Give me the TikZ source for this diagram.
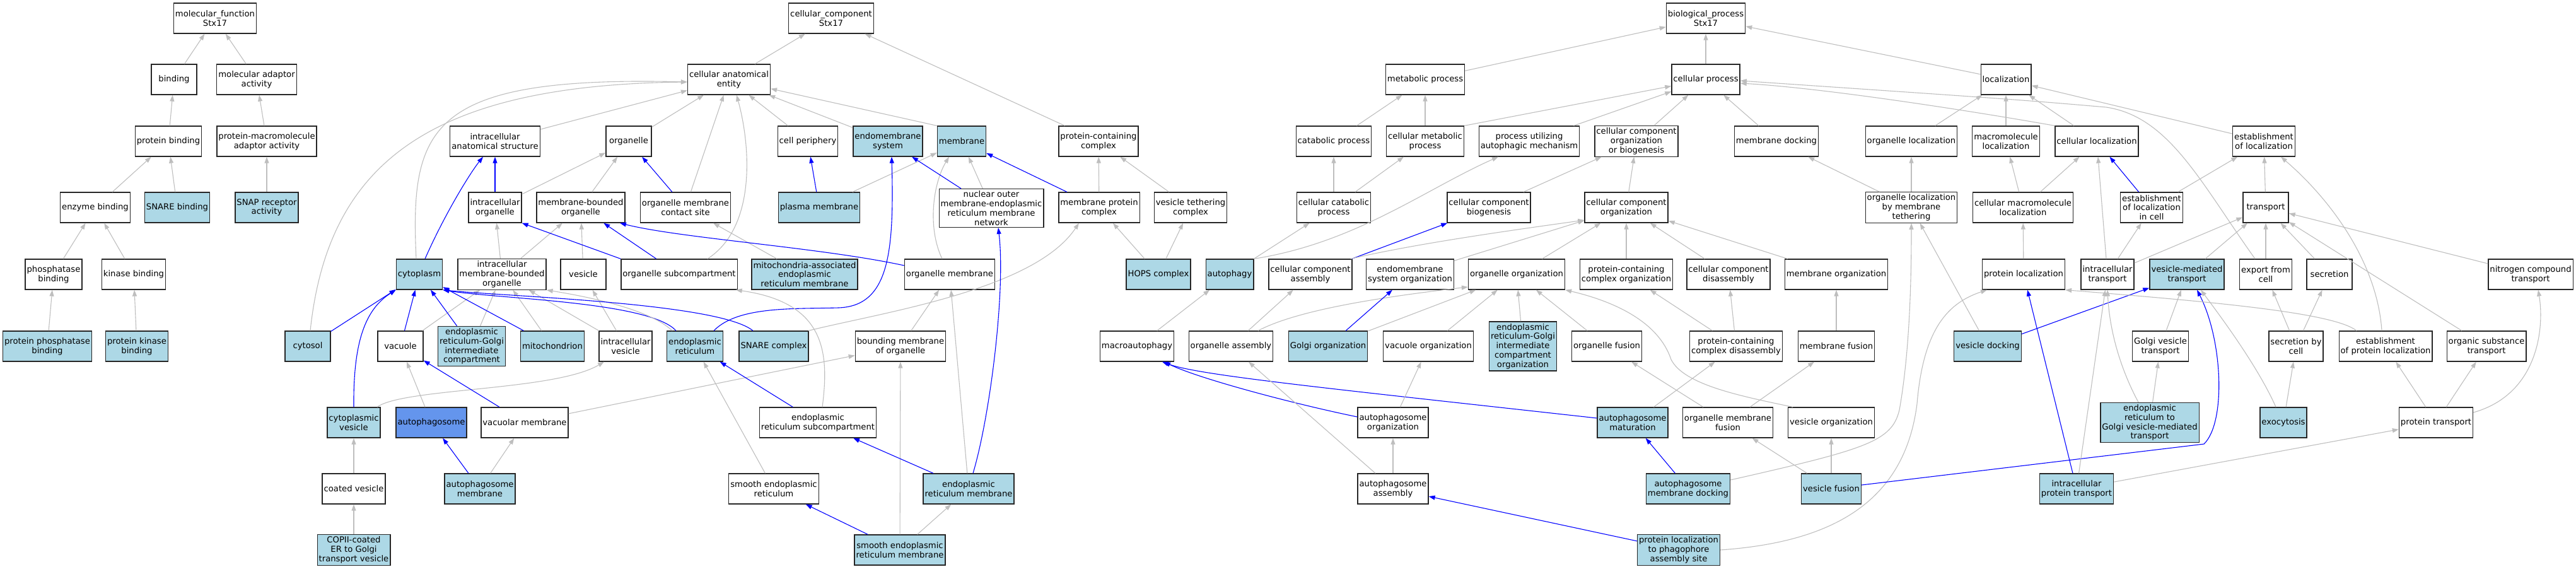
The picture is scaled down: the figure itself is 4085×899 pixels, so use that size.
\documentclass[tikz,border=0pt]{standalone}
\usepackage{fontspec}
\setmainfont{DejaVu Sans}
\usepackage{tikz}
\usetikzlibrary{arrows.meta}
\definecolor{gohit}{HTML}{ADD8E6}
\definecolor{goapg}{HTML}{6495ED}
\definecolor{goedge}{HTML}{BEBEBE}
\definecolor{gopart}{HTML}{0000FF}
\begin{document}
\begin{tikzpicture}[x=1pt,y=-1pt,
  term/.style={draw=black!85, line width=1.3pt, fill=white, align=center,
    minimum width=72pt, minimum height=48pt, inner xsep=2.5pt, inner ysep=3pt,
    font=\fontsize{13.2}{14.8}\selectfont},
  hit/.style={term, fill=gohit},
  isa/.style={draw=goedge, line width=1.1pt, -{Triangle[length=10pt,width=7pt]}},
  partof/.style={draw=gopart, line width=1.1pt, -{Triangle[length=10pt,width=7pt]}}]
  \useasboundingbox (0,0) rectangle (4085,899);
  % molecular function
  \draw (341,29) node[term](mf){molecular\_function\\Stx17};
  \draw (276,126) node[term](bind){binding};
  \draw (407,126) node[term](mad){molecular adaptor\\activity};
  \draw (267,224) node[term](pbind){protein binding};
  \draw (423,224) node[term](pmad){protein-macromolecule\\adaptor activity};
  \draw (151,329) node[term](enz){enzyme binding};
  \draw (281,329) node[hit](snareb){SNARE binding};
  \draw (423,329) node[hit](snap){SNAP receptor\\activity};
  \draw (85,435) node[term](phos){phosphatase\\binding};
  \draw (212,435) node[term](kin){kinase binding};
  \draw (75,549) node[hit](pphos){protein phosphatase\\binding};
  \draw (217,549) node[hit](pkin){protein kinase\\binding};
  % cellular component
  \draw (1318,29) node[term](cc){cellular\_component\\Stx17};
  \draw (1156,126) node[term](cae){cellular anatomical\\entity};
  \draw (785,224) node[term](ias){intracellular\\anatomical structure};
  \draw (997,224) node[term](org){organelle};
  \draw (1281,224) node[term](cper){cell periphery};
  \draw (1408,224) node[hit](ems){endomembrane\\system};
  \draw (1525,224) node[hit](mem){membrane};
  \draw (1742,224) node[term](pcc){protein-containing\\complex};
  \draw (785,329) node[term](iorg){intracellular\\organelle};
  \draw (921,329) node[term](mbo){membrane-bounded\\organelle};
  \draw (1087,329) node[term](omcs){organelle membrane\\contact site};
  \draw (1299,329) node[hit](pm){plasma membrane};
  \draw (1572,330) node[term](nomer){nuclear outer\\membrane-endoplasmic\\reticulum membrane\\network};
  \draw (1743,329) node[term](mpc){membrane protein\\complex};
  \draw (1888,329) node[term](vtc){vesicle tethering\\complex};
  \draw (665,435) node[hit](cyto){cytoplasm};
  \draw (796,435) node[term](imbo){intracellular\\membrane-bounded\\organelle};
  \draw (925,435) node[term](ves){vesicle};
  \draw (1077,435) node[term](osub){organelle subcompartment};
  \draw (1276,435) node[hit](mam){mitochondria-associated\\endoplasmic\\reticulum membrane};
  \draw (1506,435) node[term](omem){organelle membrane};
  \draw (1837,435) node[hit](hops){HOPS complex};
  \draw (488,549) node[hit](cytosol){cytosol};
  \draw (635,549) node[term](vac){vacuole};
  \draw (748,549) node[hit](ergic){endoplasmic\\reticulum-Golgi\\intermediate\\compartment};
  \draw (876,549) node[hit](mito){mitochondrion};
  \draw (992,549) node[term](ives){intracellular\\vesicle};
  \draw (1102,549) node[hit](er){endoplasmic\\reticulum};
  \draw (1227,549) node[hit](snarec){SNARE complex};
  \draw (1428,549) node[term](bmo){bounding membrane\\of organelle};
  \draw (561,670) node[hit](cves){cytoplasmic\\vesicle};
  \draw (684,670) node[term, fill=goapg](apg){autophagosome};
  \draw (832,670) node[term](vacm){vacuolar membrane};
  \draw (1297,670) node[term](ersub){endoplasmic\\reticulum subcompartment};
  \draw (561,775) node[term](coat){coated vesicle};
  \draw (761,775) node[hit](apgm){autophagosome\\membrane};
  \draw (1227,775) node[term](ser){smooth endoplasmic\\reticulum};
  \draw (1536,775) node[hit](erm){endoplasmic\\reticulum membrane};
  \draw (561,872) node[hit](copii){COPII-coated\\ER to Golgi\\transport vesicle};
  \draw (1427,872) node[hit](serm){smooth endoplasmic\\reticulum membrane};
  % biological process
  \draw (2705,29) node[term](bp){biological\_process\\Stx17};
  \draw (2260,126) node[term](metab){metabolic process};
  \draw (2705,126) node[term](cproc){cellular process};
  \draw (3181,126) node[term](loc){localization};
  \draw (2115,224) node[term](catab){catabolic process};
  \draw (2260,224) node[term](cmetab){cellular metabolic\\process};
  \draw (2425,224) node[term](puam){process utilizing\\autophagic mechanism};
  \draw (2595,224) node[term](ccob){cellular component\\organization\\or biogenesis};
  \draw (2817,224) node[term](mdock){membrane docking};
  \draw (3031,224) node[term](orgloc){organelle localization};
  \draw (3181,224) node[term](mmloc){macromolecule\\localization};
  \draw (3325,224) node[term](cloc){cellular localization};
  \draw (3590,224) node[term](estloc){establishment\\of localization};
  \draw (2115,329) node[term](ccatab){cellular catabolic\\process};
  \draw (2361,329) node[term](ccb){cellular component\\biogenesis};
  \draw (2579,329) node[term](cco){cellular component\\organization};
  \draw (3031,329) node[term](oltether){organelle localization\\by membrane\\tethering};
  \draw (3208,329) node[term](cmmloc){cellular macromolecule\\localization};
  \draw (3412,329) node[term](estcell){establishment\\of localization\\in cell};
  \draw (3593,329) node[term](transp){transport};
  \draw (1950,435) node[hit](autophagy){autophagy};
  \draw (2078,435) node[term](cca){cellular component\\assembly};
  \draw (2236,435) node[term](emso){endomembrane\\system organization};
  \draw (2405,435) node[term](oorg){organelle organization};
  \draw (2579,435) node[term](pcco){protein-containing\\complex organization};
  \draw (2741,435) node[term](ccd){cellular component\\disassembly};
  \draw (2912,435) node[term](memorg){membrane organization};
  \draw (3209,435) node[term](ploc){protein localization};
  \draw (3342,435) node[term](itransp){intracellular\\transport};
  \draw (3468,435) node[hit](vmt){vesicle-mediated\\transport};
  \draw (3593,435) node[term](export){export from\\cell};
  \draw (3694,435) node[term](secr){secretion};
  \draw (4013,435) node[term](nct){nitrogen compound\\transport};
  \draw (1803,549) node[term](macro){macroautophagy};
  \draw (1952,549) node[term](oasm){organelle assembly};
  \draw (2106,549) node[hit](golgio){Golgi organization};
  \draw (2265,549) node[term](vaco){vacuole organization};
  \draw (2415,549) node[hit](ergico){endoplasmic\\reticulum-Golgi\\intermediate\\compartment\\organization};
  \draw (2548,549) node[term](ofus){organelle fusion};
  \draw (2753,549) node[term](pccd){protein-containing\\complex disassembly};
  \draw (2912,549) node[term](mfus){membrane fusion};
  \draw (3152,549) node[hit](vdock){vesicle docking};
  \draw (3426,549) node[term](gvt){Golgi vesicle\\transport};
  \draw (3641,549) node[term](secc){secretion by\\cell};
  \draw (3783,549) node[term](estprot){establishment\\of protein localization};
  \draw (3943,549) node[term](ost){organic substance\\transport};
  \draw (2209,670) node[term](apgo){autophagosome\\organization};
  \draw (2589,670) node[hit](apgmat){autophagosome\\maturation};
  \draw (2740,670) node[term](omfus){organelle membrane\\fusion};
  \draw (2904,670) node[term](veso){vesicle organization};
  \draw (3409,670) node[hit](ergvt){endoplasmic\\reticulum to\\Golgi vesicle-mediated\\transport};
  \draw (3621,670) node[hit](exo){exocytosis};
  \draw (3863,670) node[term](ptransp){protein transport};
  \draw (2209,775) node[term](apga){autophagosome\\assembly};
  \draw (2677,775) node[hit](apgmd){autophagosome\\membrane docking};
  \draw (2904,775) node[hit](vfus){vesicle fusion};
  \draw (3293,775) node[hit](iptransp){intracellular\\protein transport};
  \draw (2662,872) node[hit](plpas){protein localization\\to phagophore\\assembly site};
  % molecular function edges
  \draw[isa] (bind) -- (mf);
  \draw[isa] (mad) -- (mf);
  \draw[isa] (pbind) -- (bind);
  \draw[isa] (pmad) -- (mad);
  \draw[isa] (enz) -- (pbind);
  \draw[isa] (snareb) -- (pbind);
  \draw[isa] (snap) -- (pmad);
  \draw[isa] (phos) -- (enz);
  \draw[isa] (kin) -- (enz);
  \draw[isa] (pphos) -- (phos);
  \draw[isa] (pkin) -- (kin);
  % cellular component edges
  \draw[isa] (cae) -- (cc);
  \draw[isa] (pcc) -- (cc);
  \draw[isa] (ias) -- (cae);
  \draw[isa] (org) -- (cae);
  \draw[isa] (omcs) -- (cae);
  \draw[isa] (cper) -- (cae);
  \draw[isa] (ems) -- (cae);
  \draw[isa] (mem.north west) -- (cae);
  \draw[isa] ([xshift=45pt]osub.north) .. controls (1200,360) and (1190,230) .. ([xshift=12pt]cae.south);
  \draw[isa] ([xshift=-5pt]cyto.north) .. controls (650,200) and (680,120) .. ([yshift=-4pt]cae.west);
  \draw[isa] ([xshift=4pt]cytosol.north) .. controls (520,260) and (680,135) .. ([yshift=-4pt]cae.west);
  \draw[partof] (iorg) -- (ias);
  \draw[isa] (iorg) -- (org);
  \draw[partof] ([xshift=9pt]cyto.north) .. controls (705,340) and (745,275) .. ([xshift=-19pt]ias.south);
  \draw[isa] (mbo) -- (org);
  \draw[partof] (omcs) -- (org);
  \draw[partof] (pm) -- (cper);
  \draw[isa] (pm) -- (mem);
  \draw[isa] (imbo) -- (iorg);
  \draw[isa] (imbo) -- (mbo);
  \draw[isa] (ves) -- (mbo);
  \draw[partof] (osub.north west) -- (iorg.south east);
  \draw[partof] (osub) -- (mbo);
  \draw[isa] (mam) -- (omcs);
  \draw[partof] ([yshift=14pt]omem.west) .. controls (1300,392) and (1080,378) .. ([xshift=62pt]mbo.south);
  \draw[isa] ([xshift=-12pt]omem.north) .. controls (1470,360) and (1480,290) .. ([xshift=-20pt]mem.south);
  \draw[partof] (nomer) -- (ems);
  \draw[isa] (nomer) -- (mem);
  \draw[partof] (mpc) -- (mem);
  \draw[isa] (mpc) -- (pcc);
  \draw[isa] (vtc) -- (pcc);
  \draw[isa] (hops) -- (mpc);
  \draw[isa] (hops) -- (vtc);
  \draw[partof] (cytosol) -- (cyto);
  \draw[partof] (vac) -- (cyto);
  \draw[isa] (vac) -- (imbo);
  \draw[partof] (ergic) -- (cyto);
  \draw[isa] (ergic) -- (imbo);
  \draw[partof] (mito) -- (cyto);
  \draw[isa] (mito) -- (imbo);
  \draw[isa] (ives) -- (imbo);
  \draw[isa] (ives) -- (ves);
  \draw[partof] ([xshift=-30pt]er.north) .. controls (1030,478) and (790,474) .. (cyto.south east);
  \draw[isa] ([xshift=-36pt]er.north) .. controls (1030,490) and (930,470) .. (imbo.south east);
  \draw[partof] ([xshift=30pt]er.north) .. controls (1170,485) and (1260,490) .. (1330,488) .. controls (1410,485) and (1418,400) .. ([xshift=6pt]ems.south);
  \draw[partof] ([xshift=-33pt]snarec.north) .. controls (1140,480) and (800,470) .. (cyto.south east);
  \draw[isa] ([xshift=55pt]snarec.north) .. controls (1400,495) and (1640,460) .. ([xshift=-32pt]mpc.south);
  \draw[partof] (cves.north) .. controls (560,540) and (580,490) .. (cyto.south west);
  \draw[isa] ([xshift=37pt]cves.north) .. controls (640,615) and (880,620) .. ([xshift=-34pt]ives.south);
  \draw[isa] (coat) -- (cves);
  \draw[isa] (copii) -- (coat);
  \draw[isa] (apg) -- (vac);
  \draw[partof] (vacm) -- (vac);
  \draw[isa] (vacm) -- (bmo);
  \draw[partof] (apgm) -- (apg);
  \draw[isa] (apgm) -- (vacm);
  \draw[partof] (ersub) -- (er);
  \draw[isa] ([xshift=7pt]ersub.north) .. controls (1315,560) and (1310,480) .. ([xshift=-3pt]osub.south east);
  \draw[isa] (ser) -- (er);
  \draw[partof] (serm) -- (ser);
  \draw[isa] (serm) -- (bmo);
  \draw[isa] (serm) -- (erm);
  \draw[partof] (erm) -- (ersub);
  \draw[isa] (erm) -- (omem);
  \draw[isa] (bmo) -- (omem);
  \draw[partof] ([xshift=7pt]erm.north) .. controls (1570,660) and (1595,460) .. ([xshift=11pt]nomer.south);
  % biological process edges
  \draw[isa] (metab) -- (bp);
  \draw[isa] (cproc) -- (bp);
  \draw[isa] (loc) -- (bp);
  \draw[isa] (catab) -- (metab);
  \draw[isa] (cmetab) -- (metab);
  \draw[isa] (cmetab.north east) -- (cproc);
  \draw[isa] (puam) -- (cproc);
  \draw[isa] (ccob) -- (cproc);
  \draw[isa] (mdock) -- (cproc);
  \draw[isa] (cloc.north west) .. controls (3150,180) and (2900,140) .. ([yshift=-6pt]cproc.east);
  \draw[isa] ([xshift=-17pt]export.north) .. controls (3490,290) and (3440,185) .. (3340,170) .. controls (3200,158) .. ([yshift=-2pt]cproc.east);
  \draw[isa] (ccatab) -- (catab);
  \draw[isa] (ccatab) -- (cmetab);
  \draw[isa] (autophagy) -- (ccatab);
  \draw[isa] (autophagy.north east) .. controls (2150,385) and (2260,300) .. ([xshift=-49pt]puam.south);
  \draw[isa] (ccb) -- (ccob);
  \draw[isa] (cco) -- (ccob);
  \draw[partof] (cca) -- (ccb);
  \draw[isa] ([xshift=64pt]cca.north) .. controls (2250,385) and (2420,362) .. ([yshift=-20pt]cco.west);
  \draw[isa] (emso) -- (cco);
  \draw[isa] (oorg) -- (cco);
  \draw[isa] (pcco) -- (cco);
  \draw[isa] (ccd) -- (cco);
  \draw[isa] (memorg) -- (cco);
  \draw[isa] (macro) -- (autophagy);
  \draw[isa] (oasm) -- (cca);
  \draw[isa] ([xshift=43pt]oasm.north) .. controls (2060,490) and (2200,470) .. ([yshift=-20pt]oorg.west);
  \draw[partof] (golgio) -- (emso);
  \draw[isa] (golgio) -- (oorg);
  \draw[isa] (vaco) -- (oorg);
  \draw[isa] (ergico) -- (oorg);
  \draw[isa] (ofus) -- (oorg);
  \draw[isa] ([xshift=-61pt]veso.north) .. controls (2760,628) and (2670,610) .. (2650,570) .. controls (2630,510) and (2560,478) .. (oorg.south east);
  \draw[isa] (pccd) -- (pcco);
  \draw[isa] (pccd) -- (ccd);
  \draw[isa] (mfus) -- (memorg);
  \draw[isa] (omfus) -- (ofus);
  \draw[isa] (omfus) -- (mfus);
  \draw[isa] (apgmat) -- (pccd);
  \draw[partof] ([yshift=7pt]apgmat.west) .. controls (2100,615) and (1900,595) .. ([xshift=40pt]macro.south);
  \draw[partof] ([yshift=9pt]apgo.west) .. controls (2050,640) and (1900,600) .. ([xshift=43pt]macro.south);
  \draw[isa] (apgo) -- (vaco);
  \draw[isa] (apga) -- (apgo);
  \draw[isa] (apga) -- (oasm);
  \draw[partof] (plpas) -- (apga);
  \draw[partof] (apgmd) -- (apgmat);
  \draw[isa] ([yshift=14pt]apgmd.east) .. controls (2960,712) and (3000,700) .. (3012,650) .. controls (3028,560) and (3031,450) .. (oltether.south);
  \draw[isa] (plpas.east) .. controls (2900,860) and (3020,800) .. (3040,640) .. controls (3050,520) and (3090,480) .. ([xshift=-58pt]ploc.south);
  \draw[isa] (vfus) -- (omfus);
  \draw[isa] (vfus) -- (veso);
  \draw[partof] ([yshift=6pt]vfus.east) -- (3495,704) .. controls (3530,670) and (3525,540) .. ([xshift=16pt]vmt.south);
  \draw[isa] (orgloc) -- (loc);
  \draw[isa] (mmloc) -- (loc);
  \draw[isa] (cloc) -- (loc);
  \draw[isa] (estloc) -- (loc);
  \draw[isa] (oltether) -- (mdock);
  \draw[isa] (oltether) -- (orgloc);
  \draw[isa] (cmmloc) -- (mmloc);
  \draw[isa] (cmmloc) -- (cloc);
  \draw[isa] (ploc) -- (cmmloc);
  \draw[isa] (vdock) -- (oltether);
  \draw[partof] (vdock) -- (vmt);
  \draw[partof] (iptransp) -- (ploc);
  \draw[isa] (iptransp) -- (itransp);
  \draw[isa] (iptransp) -- (ptransp);
  \draw[partof] (estcell) -- (cloc);
  \draw[isa] (estcell) -- (estloc);
  \draw[isa] (transp) -- (estloc);
  \draw[isa] (itransp) -- (estcell);
  \draw[isa] (itransp) -- (transp);
  \draw[isa] (itransp) -- (cloc);
  \draw[isa] (vmt) -- (transp);
  \draw[isa] (export) -- (transp);
  \draw[isa] (secr) -- (transp);
  \draw[isa] (nct) -- (transp);
  \draw[isa] (ost) -- (transp);
  \draw[isa] (gvt) -- (vmt);
  \draw[isa] (ergvt) -- (gvt);
  \draw[isa] ([xshift=-18pt]ergvt.north) .. controls (3360,580) and (3345,520) .. (itransp.south);
  \draw[isa] ([xshift=-12pt]exo.north) .. controls (3580,580) and (3520,500) .. ([xshift=22pt]vmt.south);
  \draw[isa] (exo) -- (secc);
  \draw[isa] (secc) -- (export);
  \draw[isa] (secc) -- (secr);
  \draw[isa] ([xshift=-6pt]estprot.north) .. controls (3770,420) and (3700,320) .. ([xshift=27pt]estloc.south);
  \draw[isa] ([xshift=-46pt]estprot.north) .. controls (3700,495) and (3500,478) .. (ploc.south east);
  \draw[isa] (ptransp) -- (estprot);
  \draw[isa] (ptransp) -- (ost);
  \draw[isa] ([yshift=16pt]ptransp.east) .. controls (4025,625) and (4035,520) .. ([xshift=12pt]nct.south);
\end{tikzpicture}
\end{document}
